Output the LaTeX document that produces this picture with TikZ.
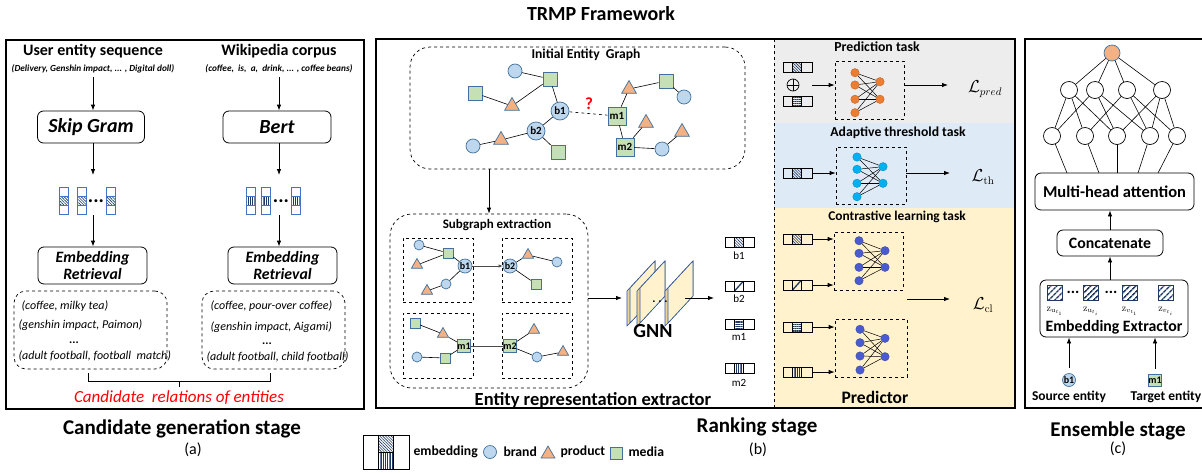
\documentclass[tikz,border=0pt]{standalone}
\usepackage[no-math]{fontspec}
\setmainfont{Carlito}
\usetikzlibrary{arrows.meta,patterns,patterns.meta,shapes.geometric,positioning}

\definecolor{brandfill}{HTML}{BDD7EE}
\definecolor{shapeline}{HTML}{41719C}
\definecolor{prodfill}{HTML}{F4B183}
\definecolor{mediafill}{HTML}{C5E0B4}
\definecolor{vecline}{HTML}{4472C4}
\definecolor{hatchnavy}{HTML}{203864}
\definecolor{taskgray}{HTML}{EDEDED}
\definecolor{taskblue}{HTML}{DEEBF7}
\definecolor{taskyellow}{HTML}{FFF2CC}
\definecolor{nnorange}{HTML}{ED7D31}
\definecolor{nncyan}{HTML}{00B0F0}
\definecolor{nnblue}{HTML}{4A5BD0}
\definecolor{slabedge}{HTML}{2F5597}
\definecolor{slabside}{HTML}{EAD49A}

\newcommand{\fz}[1]{\fontsize{#1}{#1}\selectfont}

\begin{document}
\begin{tikzpicture}[x=1pt,y=-1pt]
		\tikzset{panel/.style = {draw, line width=1.4pt},
			stepbox/.style = {draw, rounded corners=6pt, line width=0.8pt, align=center, inner sep=0pt},
			dashbox/.style = {draw, dashed, line width=0.7pt, inner sep=0pt},
			arr/.style = {-{Latex[length=6pt,width=4.5pt]}, line width=0.8pt},
			link/.style = {line width=0.6pt},
			brand/.style = {circle, draw=shapeline, fill=brandfill, inner sep=0pt, minimum size=14pt, line width=0.7pt, font=\bfseries\fz{11}},
			product/.style = {regular polygon, regular polygon sides=3, draw=shapeline, fill=prodfill, inner sep=0pt, minimum size=17pt, line width=0.7pt},
			media/.style = {rectangle, draw=shapeline, fill=mediafill, inner sep=0pt, minimum size=14pt, line width=0.7pt, font=\bfseries\fz{11}},
			small/.style = {minimum size=10pt, font=\bfseries\fz{10}},
			neuron/.style = {circle, fill=#1, draw=#1!75!black, line width=0.3pt, inner sep=0pt, minimum size=8.5pt},
			attn/.style = {circle, draw, fill=white, line width=0.7pt, inner sep=0pt, minimum size=17pt},
			oplus/.style = {circle, draw, line width=0.7pt, inner sep=0pt, minimum size=12pt,
				path picture={\draw[line width=0.7pt] (path picture bounding box.north) -- (path picture bounding box.south) (path picture bounding box.west) -- (path picture bounding box.east);}},
			dots/.style = {font=\bfseries\fz{#1}, inner sep=1pt},
			hatch b1/.style = {pattern={Lines[angle=-45, distance=2pt, line width=0.6pt]}, pattern color=hatchnavy},
			hatch b2/.style = {path picture={\draw[line width=1.3pt, hatchnavy] (path picture bounding box.south west) -- (path picture bounding box.north east);}},
			hatch m1/.style = {pattern={Lines[angle=0, distance=1.8pt, line width=0.6pt]}, pattern color=hatchnavy},
			hatch m2/.style = {pattern={Lines[angle=90, distance=1.8pt, line width=0.6pt]}, pattern color=hatchnavy},
			hatch z/.style = {pattern={Lines[angle=45, distance=4pt, line width=1.6pt]}, pattern color=hatchnavy},
			pics/hvec/.style = {code={
				\draw[line width=0.6pt] (-14.5,-5) rectangle (14.5,5);
				\draw[line width=0.6pt, #1] (-5,-5) rectangle (4,5);
				\coordinate (-e) at (14.5,0);
			}},
			pics/vvec/.style = {code={
				\draw[vecline, line width=0.6pt] (-4.5,-13.5) rectangle (4.5,13.5);
				\draw[vecline, line width=0.6pt, #1] (-4.5,-4.5) rectangle (4.5,4.5);
			}}}

		\useasboundingbox (0,0) rectangle (1202,472);

		\node[font=\bfseries\fz{20}] (title) at (601,14) {TRMP Framework};


		\draw[panel] (6,40) rectangle (364,409);

		\node[font=\bfseries\fz{16}] (seq) at (93,51) {User entity sequence};
		\node[font=\bfseries\itshape\fz{9.3}] (seqex) at (93,69) {(Delivery, Genshin impact, ... , Digital doll)};
		\node[font=\bfseries\fz{16}] (wiki) at (279,51) {Wikipedia corpus};
		\node[font=\bfseries\itshape\fz{9.3}] (wikiex) at (279,69) {(coffee,~ is,~ a,~ drink, ... , coffee beans)};

		\node[stepbox, minimum width=107pt, minimum height=32pt, font=\bfseries\itshape\fz{20}] (skip) at (91,127) {Skip Gram};
		\node[stepbox, minimum width=108pt, minimum height=32pt, font=\bfseries\itshape\fz{20}] (bert) at (277,127) {Bert};

		\pic at (64,201) {vvec=hatch b1};
		\pic at (81.5,201) {vvec=hatch b1};
		\pic at (110.5,201) {vvec=hatch b1};
		\node[dots=20] (sdots) at (96,201) {...};
		\pic at (251,201) {vvec=hatch m2};
		\pic at (265.5,201) {vvec=hatch m2};
		\pic at (296,201) {vvec=hatch m2};
		\node[dots=20] (bdots) at (281,201) {...};

		\coordinate (sv_top) at (93,175);
		\coordinate (sv_bot) at (93,215);
		\coordinate (bv_top) at (279,175);
		\coordinate (bv_bot) at (279,215);

		\node[stepbox, minimum width=109pt, minimum height=37pt, font=\bfseries\itshape\fz{15.8}] (er1) at (92.5,265.5) {Embedding\\[1pt]Retrieval};
		\node[stepbox, minimum width=109pt, minimum height=37pt, font=\bfseries\itshape\fz{15.8}] (er2) at (282.5,265.5) {Embedding\\[1pt]Retrieval};

		\draw[arr] (seqex.south) -- (seqex.south |- skip.north);
		\draw[arr] (wikiex.south) -- (wikiex.south |- bert.north);
		\draw[arr] (skip.south -| sv_top) -- (sv_top);
		\draw[arr] (bert.south -| bv_top) -- (bv_top);
		\draw[arr] (sv_bot) -- (sv_bot |- er1.north);
		\draw[arr] (bv_bot) -- (bv_bot |- er2.north);

		\node[dashbox, rounded corners=12pt, minimum width=153pt, minimum height=78pt] (cand1) at (90.5,330) {};
		\node[dashbox, rounded corners=12pt, minimum width=143pt, minimum height=78pt] (cand2) at (273.5,330) {};

		\node[anchor=west, font=\itshape\fz{12}] (c1a) at (18,306) {(coffee, milky tea)};
		\node[anchor=west, font=\itshape\fz{12}] (c1b) at (15,325) {(genshin impact, Paimon)};
		\node[dots=12] (c1c) at (74,343) {...};
		\node[anchor=west, font=\itshape\fz{12}] (c1d) at (15,356) {(adult football, football~ match)};
		\node[anchor=west, font=\itshape\fz{12}] (c2a) at (207,306) {(coffee, pour-over coffee)};
		\node[anchor=west, font=\itshape\fz{12}] (c2b) at (207,327) {(genshin impact, Aigami)};
		\node[dots=12] (c2c) at (267,344) {...};
		\node[anchor=west, font=\itshape\fz{12}] (c2d) at (203,357) {(adult football, child football)};

		\draw[link] (88,373) -- (88,381) -- (270,381) -- (270,373);
		\draw[link] (179,381) -- (179,387);
		\node[text=red, font=\itshape\fz{17}] (candrel) at (179,398) {Candidate~ relations of entities};

		\node[font=\bfseries\fz{21}] (stagea) at (182,429) {Candidate generation stage};
		\node[font=\fz{16}] (laba) at (193,450) {(a)};


		\fill[taskgray] (774,39) rectangle (1015,123);
		\fill[taskblue] (774,123) rectangle (1015,208);
		\fill[taskyellow] (774,208) rectangle (1015,408);
		\draw[panel] (376,39) rectangle (1015,408);
		\draw[dashed, line width=0.9pt] (774,39) -- (774,408);

		\node[dashbox, rounded corners=20pt, minimum width=335pt, minimum height=122pt] (ieg) at (577.5,108) {};
		\node[font=\bfseries\fz{13.6}] (iegt) at (586,55) {Initial Entity~ Graph};

		\node[brand] (g_c1) at (515,71) {};
		\node[media] (g_s1) at (550,79) {};
		\node[media] (g_s2) at (475,93) {};
		\node[product] (g_t1) at (512,106) {};
		\node[brand, minimum size=18pt] (b1) at (560,111) {b1};
		\node[media, minimum size=18pt] (m1) at (617,116) {m1};
		\node[product] (g_t2) at (629,89) {};
		\node[media] (g_s3) at (666,81) {};
		\node[brand] (g_c2) at (684,97) {};
		\node[product] (g_t3) at (646,123) {};
		\node[brand, minimum size=18pt] (b2) at (536,131) {b2};
		\node[product] (g_t4) at (501,140) {};
		\node[brand] (g_c3) at (473,146) {};
		\node[media] (g_s4) at (558,152) {};
		\node[media, minimum size=18pt] (m2) at (625,147) {m2};
		\node[brand] (g_c4) at (662,149) {};
		\node[product] (g_t5) at (682,132) {};
		\node[text=red, font=\bfseries\fz{17}] (ask) at (589,104) {?};

		\draw[link] (g_c1) -- (g_s1);
		\draw[link] (g_s2) -- (g_t1);
		\draw[link] (g_t1) -- (g_s1);
		\draw[link] (g_s1) -- (b1);
		\draw[link] (b1) -- (b2);
		\draw[link, dashed] (b1) -- (m1);
		\draw[link] (b2) -- (g_t4);
		\draw[link] (g_t4) -- (g_c3);
		\draw[link] (b2) -- (g_s4);
		\draw[link] (m1) -- (g_t2);
		\draw[link] (g_t2) -- (g_s3);
		\draw[link] (g_s3) -- (g_c2);
		\draw[link] (m1) -- (m2);
		\draw[link] (m2) -- (g_t3);
		\draw[link] (m2) -- (g_c4);
		\draw[link] (g_c4) -- (g_t5);

		\node[dashbox, rounded corners=22pt, minimum width=198pt, minimum height=174pt] (sub) at (489,301) {};
		\node[font=\bfseries\fz{13}] (subt) at (497,225) {Subgraph extraction};
		\draw[arr] (ieg.south -| sub.north) -- (sub.north);

		\node[dashbox, minimum width=70pt, minimum height=64pt] (sub_tl) at (438,270) {};
		\node[dashbox, minimum width=70pt, minimum height=64pt] (sub_tr) at (537,270) {};
		\node[dashbox, minimum width=70pt, minimum height=65pt] (sub_bl) at (438,345.5) {};
		\node[dashbox, minimum width=70pt, minimum height=65pt] (sub_br) at (537,345.5) {};

		\node[brand, small] (s_c1) at (419,245) {};
		\node[media, small] (s_s1) at (448,253) {};
		\node[product, minimum size=13pt] (s_t1) at (417,265) {};
		\node[brand, small, minimum size=14pt] (sb1) at (465,266) {b1};
		\node[brand, small] (s_c2) at (446,284) {};
		\node[product, minimum size=13pt] (s_t2) at (427,291) {};

		\node[brand, small, minimum size=14pt] (sb2) at (510,266) {b2};
		\node[product, minimum size=13pt] (s_t3) at (528,255) {};
		\node[brand, small] (s_c3) at (557,262) {};
		\node[media, small] (s_s2) at (536,284) {};

		\node[media, small] (s_s3) at (415,323) {};
		\node[product, minimum size=13pt] (s_t4) at (443,334) {};
		\node[media, small, minimum size=13pt] (sm1) at (464,346) {m1};
		\node[brand, small] (s_c4) at (417,357) {};
		\node[media, small] (s_s4) at (445,358) {};

		\node[media, small, minimum size=13pt] (sm2) at (510,346) {m2};
		\node[product, minimum size=13pt] (s_t5) at (534,330) {};
		\node[brand, small] (s_c5) at (537,357) {};
		\node[product, minimum size=13pt] (s_t6) at (563,352) {};

		\draw[link] (s_c1) -- (s_s1);
		\draw[link] (s_t1) -- (s_s1);
		\draw[link] (s_s1) -- (sb1);
		\draw[link] (sb1) -- (s_c2);
		\draw[link] (s_c2) -- (s_t2);
		\draw[link] (sb2) -- (s_t3);
		\draw[link] (s_t3) -- (s_c3);
		\draw[link] (sb2) -- (s_s2);
		\draw[link] (s_s3) -- (s_t4);
		\draw[link] (s_t4) -- (sm1);
		\draw[link] (sm1) -- (s_s4);
		\draw[link] (s_s4) -- (s_c4);
		\draw[link] (sm2) -- (s_t5);
		\draw[link] (sm2) -- (s_c5);
		\draw[link] (s_c5) -- (s_t6);
		\draw[arr, gray!60!black, -{Latex[length=4pt,width=3.5pt]}] (sb1) -- (sb2);
		\draw[link, gray!60!black, line width=0.9pt] (sm1) -- (sm2);

		\foreach \a in {627,637,665} {
			\filldraw[draw=slabedge, fill=slabside, line width=0.6pt] (\a,291) -- (\a+25,264) -- (\a+28,261) -- (\a+28,296) -- (\a+3,323) -- (\a,326) -- cycle;
			\filldraw[draw=slabedge, fill=taskyellow, line width=0.6pt] (\a+3,288) -- (\a+28,261) -- (\a+28,296) -- (\a+3,323) -- cycle;
		}
		\node[dots=12] (gdots) at (660,302) {.~.~.};
		\node[font=\bfseries\fz{20}] (gnnlbl) at (653,331) {GNN};
		\coordinate (gnn_in) at (622,298);
		\coordinate (gnn_out) at (685,298);
		\coordinate (vec_in) at (714,298);
		\draw[arr] (sub.east |- gnn_in) -- (gnn_in);
		\draw[arr] (gnn_out) -- (vec_in);

		\pic (ev1) at (739.5,242) {hvec=hatch b1};
		\pic (ev2) at (739.5,286) {hvec=hatch b2};
		\pic (ev3) at (739.5,324.5) {hvec=hatch m1};
		\pic (ev4) at (739.5,368) {hvec=hatch m2};
		\node[font=\fz{11}] (ev1lbl) at (739,256) {b1};
		\node[font=\fz{11}] (ev2lbl) at (739,299) {b2};
		\node[font=\fz{11}] (ev3lbl) at (739,337) {m1};
		\node[font=\fz{11}] (ev4lbl) at (739,383) {m2};

		\node[font=\bfseries\fz{18.5}] (erx) at (593,400) {Entity representation extractor};


		\node[font=\bfseries\fz{13.8}] (predt) at (877,47) {Prediction task};
		\pic (pv1) at (797.5,67.5) {hvec=hatch b1};
		\node[oplus] (plus) at (793,85) {};
		\pic (pv2) at (797.5,101) {hvec=hatch m1};
		\node[dashbox, minimum width=69pt, minimum height=58pt] (predbox) at (869.5,90) {};
		\foreach \y [count=\i] in {72.7,85,99.3,112.7} \node[neuron=nnorange] (p_l\i) at (855,\y) {};
		\foreach \y [count=\i] in {81.7,99.3} \node[neuron=nnorange] (p_r\i) at (880,\y) {};
		\foreach \i in {1,...,4} \foreach \j in {1,2} \draw[link, line width=0.5pt] (p_l\i) -- (p_r\j);
		\coordinate (pv_out) at (pv1-e |- plus);
		\coordinate (pred_end) at (948,85);
		\node[font=\fz{16}] (lpred) at (985,89) {$\mathcal{L}_{pred}$};
		\draw[arr] (pv_out) -- (pv_out -| predbox.west);
		\draw[arr] (predbox.east |- pred_end) -- (pred_end);

		\node[font=\bfseries\fz{13.7}] (tht) at (898,133) {Adaptive threshold task};
		\pic (tv1) at (797.5,173) {hvec=hatch b1};
		\node[dashbox, minimum width=70pt, minimum height=57pt] (thbox) at (871,175.5) {};
		\foreach \y [count=\i] in {157,169.3,183.3,196.7} \node[neuron=nncyan] (t_l\i) at (857,\y) {};
		\foreach \y [count=\i] in {166.7,183.3} \node[neuron=nncyan] (t_r\i) at (883,\y) {};
		\foreach \i in {1,...,4} \foreach \j in {1,2} \draw[link, line width=0.5pt] (t_l\i) -- (t_r\j);
		\coordinate (th_end) at (950,173);
		\node[font=\fz{16}] (lth) at (983,177) {$\mathcal{L}_{\mathrm{th}}$};
		\draw[arr] (tv1-e) -- (tv1-e -| thbox.west);
		\draw[arr] (thbox.east |- th_end) -- (th_end);

		\node[font=\bfseries\fz{13.4}] (clt) at (897,217) {Contrastive learning task};
		\pic (cv1) at (797.5,239) {hvec=hatch b1};
		\pic (cv2) at (797.5,285) {hvec=hatch b2};
		\pic (cv3) at (797.5,327) {hvec=hatch m1};
		\pic (cv4) at (797.5,372) {hvec=hatch m2};
		\node[dashbox, minimum width=69pt, minimum height=58pt] (clbox1) at (868.5,261) {};
		\node[dashbox, minimum width=72pt, minimum height=58pt] (clbox2) at (871,348) {};
		\foreach \y [count=\i] in {240.7,253.3,267.3,280.7} \node[neuron=nnblue] (c_l\i) at (859,\y) {};
		\foreach \y [count=\i] in {250.7,267.3} \node[neuron=nnblue] (c_r\i) at (885,\y) {};
		\foreach \y [count=\i] in {329.3,342.7,356,370} \node[neuron=nnblue] (d_l\i) at (860,\y) {};
		\foreach \y [count=\i] in {338.3,356.7} \node[neuron=nnblue] (d_r\i) at (885,\y) {};
		\foreach \i in {1,...,4} \foreach \j in {1,2} {
			\draw[link, line width=0.5pt] (c_l\i) -- (c_r\j);
			\draw[link, line width=0.5pt] (d_l\i) -- (d_r\j);
		}
		\draw[arr] (cv1-e) -- (cv1-e -| clbox1.west);
		\draw[arr] (cv2-e) -- (cv2-e -| clbox1.west);
		\draw[arr] (cv3-e) -- (cv3-e -| clbox2.west);
		\draw[arr] (cv4-e) -- (cv4-e -| clbox2.west);
		\coordinate (cl_start) at (907,299);
		\coordinate (cl_end) at (950,299);
		\node[font=\fz{16}] (lcl) at (983,305) {$\mathcal{L}_{\mathrm{cl}}$};
		\draw[arr] (cl_start) -- (cl_end);

		\node[font=\bfseries\fz{17.5}] (predr) at (875,397) {Predictor};

		\node[font=\bfseries\fz{21}] (stageb) at (757,427) {Ranking stage};
		\node[font=\fz{16}] (labb) at (758,450) {(b)};


		\draw[link] (363,435) rectangle (409,469);
		\draw[link, hatch b1] (378.3,435) rectangle (393.7,452);
		\draw[link, hatch m2] (378.3,452) rectangle (393.7,469);
		\node[anchor=west, font=\bfseries\fz{13.7}] (lg_emb) at (410,452) {embedding};
		\node[brand, minimum size=13pt] (lg_c) at (490,452) {};
		\node[anchor=west, font=\bfseries\fz{13.7}] (lg_brand) at (500,452) {brand};
		\node[product, minimum size=16pt] (lg_t) at (548,454) {};
		\node[anchor=west, font=\bfseries\fz{13.7}] (lg_prod) at (557,452) {product};
		\node[media, minimum size=12pt] (lg_s) at (616,453) {};
		\node[anchor=west, font=\bfseries\fz{13.7}] (lg_media) at (625,452) {media};


		\draw[panel] (1025,39) rectangle (1215,408);

		\node[attn, fill=prodfill, draw=shapeline, minimum size=16pt] (e_top) at (1112,53) {};
		\foreach \x [count=\i] in {1069,1095,1127,1162} \node[attn] (e2_\i) at (\x,90) {};
		\foreach \x [count=\i] in {1052,1085,1117,1150,1177} \node[attn] (e3_\i) at (\x,136) {};
		\foreach \i in {1,...,4} \draw[link] (e_top) -- (e2_\i);
		\foreach \a/\b in {1/1,1/2,1/3,2/1,2/3,2/4,3/2,3/4,3/5,4/3,4/4,4/5} \draw[link] (e2_\a) -- (e3_\b);

		\node[stepbox, minimum width=159pt, minimum height=37pt, font=\bfseries\fz{16.5}] (mha) at (1114.5,191.5) {Multi-head attention};
		\foreach \x [count=\i] in {1067,1099,1117,1138,1158} {
			\coordinate (mt_\i) at (\x,173);
			\draw[link] (e3_\i) -- (mt_\i);
		}
		\node[stepbox, minimum width=106pt, minimum height=26pt, font=\bfseries\fz{15.8}] (concat) at (1110,243) {Concatenate};
		\node[stepbox, minimum width=148pt, minimum height=57pt] (ee) at (1114,308.5) {};
		\node[font=\bfseries\fz{15.8}] (eet) at (1114,327) {Embedding Extractor};
		\foreach \x [count=\i] in {1055,1091,1130,1166} \draw[line width=0.6pt, draw=hatchnavy, hatch z] (\x-7.5,285) rectangle (\x+7.5,300);
		\node[dots=16] (zdots1) at (1073,292) {...};
		\node[dots=16] (zdots2) at (1111,292) {...};
		\node[font=\fz{10}] (z1) at (1055,311) {$\mathrm{z}_{\mathrm{u}_{t_1}}$};
		\node[font=\fz{10}] (z2) at (1091,311) {$\mathrm{z}_{\mathrm{u}_{t_i}}$};
		\node[font=\fz{10}] (z3) at (1130,311) {$\mathrm{z}_{v_{t_1}}$};
		\node[font=\fz{10}] (z4) at (1166,311) {$\mathrm{z}_{v_{t_i}}$};

		\draw[arr] (concat.north) -- (concat.north |- mha.south);
		\draw[arr] (ee.north -| concat) -- (concat.south);

		\node[brand, minimum size=13pt, font=\bfseries\fz{10}] (e_b1) at (1069,380) {b1};
		\node[media, minimum size=12pt, font=\bfseries\fz{10}] (e_m1) at (1155,380) {m1};
		\draw[arr, shorten <=5pt] (e_b1.north) -- (e_b1.north |- ee.south);
		\draw[arr, shorten <=5pt] (e_m1.north) -- (e_m1.north |- ee.south);
		\node[font=\bfseries\fz{13.5}] (src) at (1069,397) {Source entity};
		\node[font=\bfseries\fz{13.5}] (tgt) at (1166,397) {Target entity};

		\node[font=\bfseries\fz{21}] (stagec) at (1118,431) {Ensemble stage};
		\node[font=\fz{16}] (labc) at (1118,449) {(c)};

\end{tikzpicture}
\end{document}
